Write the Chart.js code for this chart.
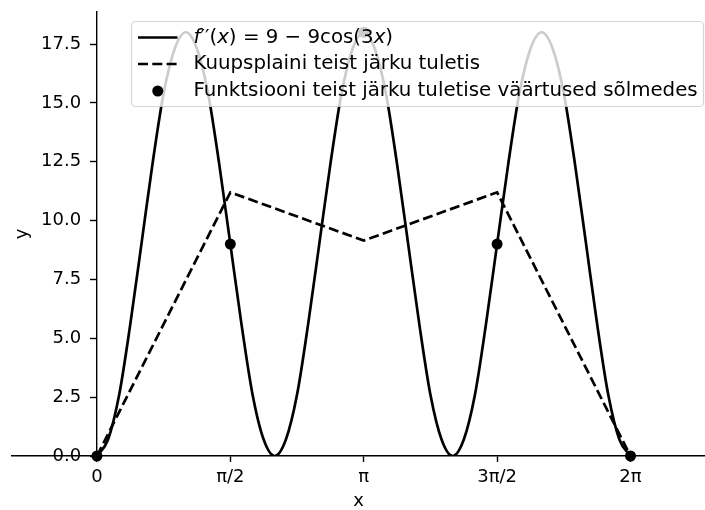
<!DOCTYPE html>
<html>
<head>
<meta charset="utf-8">
<script src="https://cdn.jsdelivr.net/npm/chart.js@4"></script>
<style>
  html, body { margin: 0; padding: 0; background: #fff; }
</style>
</head>
<body>
<canvas id="myGraphic" width="705" height="510"></canvas>
<script>
// f''(x) = 9 - 9cos(3x), values every pi/24
var curveX = [0, 0.131, 0.262, 0.393, 0.524, 0.654, 0.785, 0.916, 1.047, 1.178, 1.309, 1.440,
  1.571, 1.702, 1.833, 1.963, 2.094, 2.225, 2.356, 2.487, 2.618, 2.749, 2.880, 3.011,
  3.142, 3.272, 3.403, 3.534, 3.665, 3.796, 3.927, 4.058, 4.189, 4.320, 4.451, 4.581,
  4.712, 4.843, 4.974, 5.105, 5.236, 5.367, 5.498, 5.629, 5.760, 5.890, 6.021, 6.152, 6.283];
var curveY = [0, 0.7, 2.6, 5.6, 9, 12.4, 15.4, 17.3, 18, 17.3, 15.4, 12.4,
  9, 5.6, 2.6, 0.7, 0, 0.7, 2.6, 5.6, 9, 12.4, 15.4, 17.3,
  18, 17.3, 15.4, 12.4, 9, 5.6, 2.6, 0.7, 0, 0.7, 2.6, 5.6,
  9, 12.4, 15.4, 17.3, 18, 17.3, 15.4, 12.4, 9, 5.6, 2.6, 0.7, 0];

// solmed (nodes)
var nodeX = [0, 1.571, 3.142, 4.712, 6.283];
var splineY = [0, 11.2, 9.15, 11.2, 0];   // kuupsplaini teist jarku tuletis
var nodeY = [0, 9, 18, 9, 0];             // funktsiooni vaartused solmedes

var xTickVals = [0, 1.571, 3.142, 4.712, 6.283];
var xTickLabels = ['0', 'π/2', 'π', '3π/2', '2π'];
var yTickVals = [0, 2.5, 5, 7.5, 10, 12.5, 15, 17.5];

var curveLabelParts = [['f', true], ['′′(', false], ['x', true], [') = 9 − 9cos(3', false], ['x', true], [')', false]];
var curveLabel = curveLabelParts.map(p => p[0]).join('');
var splineLabel = 'Kuupsplaini teist järku tuletis';
var nodeLabel = 'Funktsiooni teist järku tuletise väärtused sõlmedes';

Chart.defaults.font.family = 'DejaVu Sans';
Chart.defaults.font.size = 18;
Chart.defaults.color = '#000';

var noScalePad = s => { s.paddingTop = 0; s.paddingBottom = 0; s.paddingLeft = 0; s.paddingRight = 0; };

// legend in matplotlib style, drawn on top of everything
var mplLegend = {
    id: 'mplLegend',
    afterDraw(chart) {
        const ctx = chart.ctx;
        const box = {x: 131.5, y: 21.5, w: 572, h: 85, r: 4};
        const font = '19.8px "DejaVu Sans"';
        ctx.save();
        ctx.beginPath();
        ctx.roundRect(box.x, box.y, box.w, box.h, box.r);
        ctx.fillStyle = 'rgba(255,255,255,0.8)';
        ctx.fill();
        ctx.lineWidth = 1.2;
        ctx.strokeStyle = 'rgba(204,204,204,0.8)';
        ctx.stroke();

        const rows = [37.5, 64, 91];
        const hx0 = 138, hx1 = 177.5, tx = 193.5;
        ctx.strokeStyle = '#000';
        ctx.fillStyle = '#000';
        ctx.lineWidth = 2.7;
        // solid
        ctx.beginPath(); ctx.moveTo(hx0, rows[0]); ctx.lineTo(hx1, rows[0]); ctx.stroke();
        // dashed
        ctx.setLineDash([10, 4.3]);
        ctx.beginPath(); ctx.moveTo(hx0, rows[1]); ctx.lineTo(hx1, rows[1]); ctx.stroke();
        ctx.setLineDash([]);
        // dot
        ctx.beginPath(); ctx.arc((hx0 + hx1) / 2, rows[2], 5.5, 0, Math.PI * 2); ctx.fill();

        ctx.textBaseline = 'middle';
        ctx.textAlign = 'left';
        let x = tx;
        curveLabelParts.forEach(p => {
            ctx.font = (p[1] ? 'oblique ' : '') + font;
            ctx.fillText(p[0], x, rows[0]);
            x += ctx.measureText(p[0]).width;
        });
        ctx.font = font;
        ctx.fillText(chart.data.datasets[1].label, tx, rows[1]);
        ctx.fillText(chart.data.datasets[2].label, tx, rows[2]);
        ctx.restore();
    }
};

var myChart = new Chart('myGraphic', {
    type: 'line',
    data: {
        datasets: [{
            label: curveLabel,
            data: curveX.map((x, i) => ({x: x, y: curveY[i]})),
            borderColor: '#000',
            borderWidth: 2.7,
            pointRadius: 0,
            cubicInterpolationMode: 'monotone',
            order: 3
        }, {
            label: splineLabel,
            data: nodeX.map((x, i) => ({x: x, y: splineY[i]})),
            borderColor: '#000',
            borderWidth: 2.7,
            borderDash: [10, 4.3],
            pointRadius: 0,
            tension: 0,
            order: 2
        }, {
            label: nodeLabel,
            data: nodeX.map((x, i) => ({x: x, y: nodeY[i]})),
            showLine: false,
            pointRadius: 5.5,
            pointBackgroundColor: '#000',
            pointBorderWidth: 0,
            clip: false,
            order: 1
        }]
    },
    options: {
        responsive: false,
        animation: false,
        devicePixelRatio: 1,
        layout: {autoPadding: false, padding: {left: 12, top: 12, right: 0, bottom: 0}},
        plugins: {legend: {display: false}, tooltip: {enabled: false}},
        scales: {
            x: {
                type: 'linear',
                position: 'bottom',
                min: -1,
                max: 7.16,
                border: {display: true, color: '#000', width: 1.4},
                grid: {drawOnChartArea: false, drawTicks: true, tickLength: 6, tickWidth: 1.4, tickColor: '#000'},
                ticks: {padding: 5, maxRotation: 0, autoSkip: false,
                    callback: (v, i) => xTickLabels[i]},
                afterBuildTicks: s => { s.ticks = xTickVals.map(v => ({value: v})); },
                title: {display: true, text: 'x', padding: 0, font: {lineHeight: 1}},
                afterFit: s => { s.height = 54; noScalePad(s); }
            },
            // spine and tick marks through x = 0
            y: {
                type: 'linear',
                position: {x: 0},
                min: 0,
                max: 18.86,
                border: {display: true, color: '#000', width: 1.4},
                grid: {drawOnChartArea: false, drawTicks: true, tickLength: 6, tickWidth: 1.4, tickColor: '#000'},
                ticks: {display: false},
                afterBuildTicks: s => { s.ticks = yTickVals.map(v => ({value: v})); },
                afterFit: noScalePad
            },
            // tick labels and title of the y axis
            yLab: {
                type: 'linear',
                position: 'left',
                display: true,
                min: 0,
                max: 18.86,
                grid: {display: false, drawTicks: false},
                border: {display: false},
                ticks: {mirror: true, crossAlign: 'far', padding: 29, callback: v => v.toFixed(1)},
                afterBuildTicks: s => { s.ticks = yTickVals.map(v => ({value: v})); },
                title: {display: true, text: 'y', padding: 0},
                afterFit: s => { s.width = 0; noScalePad(s); }
            }
        }
    },
    plugins: [mplLegend]
});
</script>
</body>
</html>
